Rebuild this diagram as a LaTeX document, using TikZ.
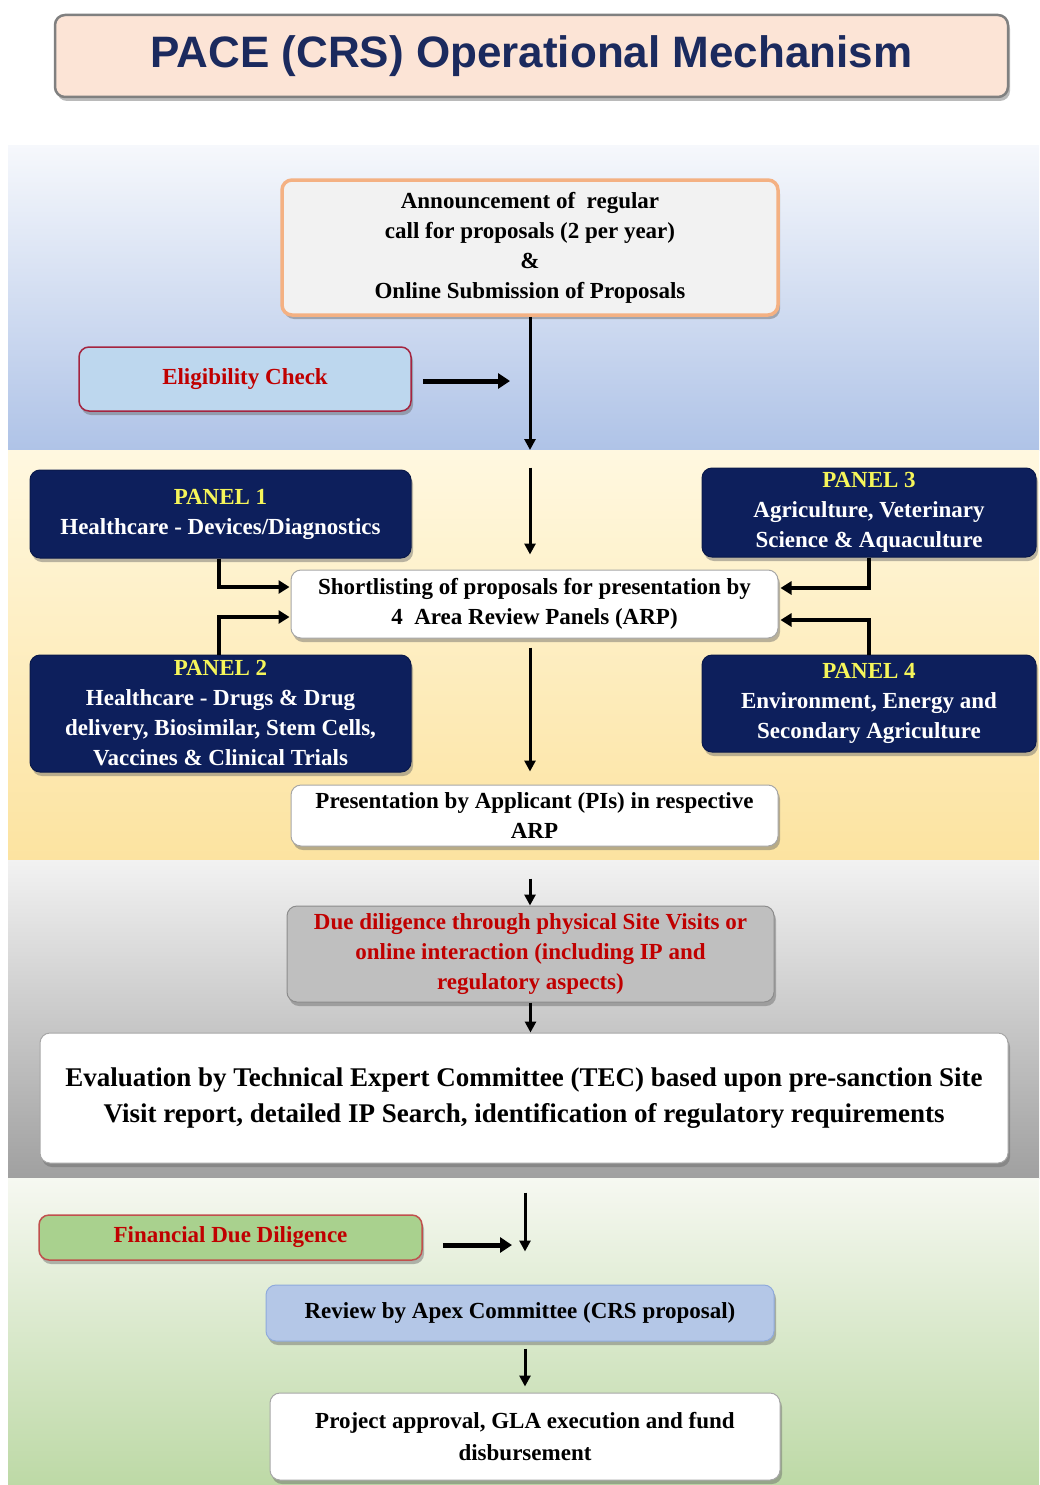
\documentclass[tikz,border=0pt]{standalone}
\usepackage{fontspec}
\setmainfont{Liberation Serif}
\newfontfamily\titlefont{Liberation Sans}
\usetikzlibrary{arrows.meta,shadows}
\definecolor{navy}{HTML}{0D1F5C}
\definecolor{titlenavy}{HTML}{1B2A5E}
\definecolor{peach}{HTML}{FCE4D6}
\definecolor{orangeb}{HTML}{F4B183}
\definecolor{eligfill}{HTML}{BDD7EE}
\definecolor{darkred}{HTML}{A5243F}
\definecolor{txtred}{HTML}{C00000}
\definecolor{panelyellow}{HTML}{F5F55A}
\definecolor{duefill}{HTML}{BFBFBF}
\definecolor{finfill}{HTML}{A9D18E}
\definecolor{finborder}{HTML}{C0504D}
\definecolor{apexfill}{HTML}{B4C7E7}
\definecolor{apexborder}{HTML}{8FAADC}
\definecolor{blueTop}{HTML}{F6F8FC}
\definecolor{blueBot}{HTML}{AFC3E7}
\definecolor{yelTop}{HTML}{FFF8E0}
\definecolor{yelBot}{HTML}{FCE3A0}
\definecolor{grayTop}{HTML}{F2F2F2}
\definecolor{grayBot}{HTML}{A0A0A0}
\definecolor{greenTop}{HTML}{F6F8F1}
\definecolor{greenBot}{HTML}{BDD9A6}
\tikzset{
  basebox/.style={rounded corners=10pt, inner sep=0pt, align=center,
    font=\bfseries\fontsize{23}{30}\selectfont,
    drop shadow={shadow xshift=2pt, shadow yshift=-4pt, opacity=0.45, fill=black!60}},
  whitebox/.style={basebox, fill=white, draw=black!35, line width=1pt},
  panelbox/.style={basebox, fill=navy, draw=navy!80!black, line width=1pt, text=white},
  arr/.style={line width=3pt, -{Triangle[length=11pt,width=11pt]}},
  conn/.style={line width=4pt, -{Triangle[length=11pt,width=13pt]}},
  sidearr/.style={line width=5pt, -{Triangle[length=12pt,width=15pt]}},
}
\begin{document}
\begin{tikzpicture}[x=1pt,y=-1pt]
\useasboundingbox (0,0) rectangle (1039,1485);
\fill[white] (0,0) rectangle (1039,1485);
% background bands
\fill[top color=blueTop, bottom color=blueBot] (8,145) rectangle (1039,450);
\fill[top color=yelTop, bottom color=yelBot] (8,450) rectangle (1039,860);
\fill[top color=grayTop, bottom color=grayBot] (8,860) rectangle (1039,1178);
\fill[top color=greenTop, bottom color=greenBot] (8,1178) rectangle (1039,1485);

% title
\node[basebox, fill=peach, draw=black!50, line width=2.5pt, minimum width=953pt, minimum height=82pt,
  font=\titlefont\bfseries\fontsize{44}{50}\selectfont, text=titlenavy] (title) at (531.5,56)
  {PACE (CRS) Operational Mechanism};

% nodes
\node[basebox, fill=black!5, draw=orangeb, line width=3.5pt, minimum width=496pt, minimum height=135pt] (ann) at (530,247.5)
  {Announcement of\ \ regular\\call for proposals (2 per year)\\\&\\Online Submission of Proposals};
\node[basebox, fill=eligfill, draw=darkred, line width=1.5pt, minimum width=332pt, minimum height=64pt, text=txtred] (elig) at (245,379)
  {Eligibility Check};

\node[panelbox, minimum width=381pt, minimum height=88pt] (p1) at (220.5,514)
  {\textcolor{panelyellow}{PANEL 1}\\Healthcare - Devices/Diagnostics};
\node[panelbox, minimum width=334pt, minimum height=89pt] (p3) at (869,512.5)
  {\textcolor{panelyellow}{PANEL 3}\\Agriculture, Veterinary\\Science \& Aquaculture};
\node[whitebox, minimum width=487pt, minimum height=68pt] (short) at (534.5,604)
  {Shortlisting of proposals for presentation by\\4\ \ Area Review Panels (ARP)};
\node[panelbox, minimum width=381pt, minimum height=117pt] (p2) at (220.5,713.5)
  {\textcolor{panelyellow}{PANEL 2}\\Healthcare - Drugs \& Drug\\delivery, Biosimilar, Stem Cells,\\Vaccines \& Clinical Trials};
\node[panelbox, minimum width=334pt, minimum height=97pt] (p4) at (869,703.5)
  {\textcolor{panelyellow}{PANEL 4}\\Environment, Energy and\\Secondary Agriculture};
\node[whitebox, minimum width=487pt, minimum height=61pt] (pres) at (534.5,815.5)
  {Presentation by Applicant (PIs) in respective\\ARP};

\node[basebox, fill=duefill, draw=black!45, line width=1pt, minimum width=487pt, minimum height=96pt, text=txtred] (due) at (530.5,954)
  {Due diligence through physical Site Visits or\\online interaction (including IP and\\regulatory aspects)};
\node[whitebox, minimum width=968pt, minimum height=130pt, font=\bfseries\fontsize{27}{36}\selectfont] (eval) at (524,1098)
  {Evaluation by Technical Expert Committee (TEC) based upon pre-sanction Site\\Visit report, detailed IP Search, identification of regulatory requirements};

\node[basebox, fill=finfill, draw=finborder, line width=1.5pt, minimum width=383pt, minimum height=45pt, text=txtred] (fin) at (230.5,1237.5)
  {Financial Due Diligence};
\node[basebox, fill=apexfill, draw=apexborder, line width=1pt, minimum width=508pt, minimum height=56pt] (apex) at (520,1313)
  {Review by Apex Committee (CRS proposal)};
\node[whitebox, minimum width=510pt, minimum height=87pt, font=\bfseries\fontsize{23}{32}\selectfont] (proj) at (525,1436.5)
  {Project approval, GLA execution and fund\\disbursement};

% connectors
\coordinate (band1end) at (530,450);
\coordinate (eligend) at (510,381);
\coordinate (finend) at (512,1245);
\draw[arr] (ann.south) -- (band1end);
\draw[sidearr] ([xshift=11pt,yshift=-2pt]elig.east) -- (eligend);
\draw[arr] ([xshift=-4.5pt,yshift=102pt]short.north) -- ([xshift=-4.5pt,yshift=15pt]short.north);

\draw[conn] ([xshift=-1.5pt]p1.south) |- ([yshift=17pt,xshift=-1pt]short.west);
\draw[conn] ([xshift=-1.5pt]p2.north) |- ([yshift=-13pt,xshift=-1pt]short.west);
\draw[conn] (p3.south) |- ([yshift=16pt,xshift=2pt]short.east);
\draw[conn] (p4.north) |- ([yshift=-16pt,xshift=2pt]short.east);

\draw[arr] ([xshift=-4.5pt,yshift=-9pt]short.south) -- ([xshift=-4.5pt,yshift=13pt]pres.north);
\draw[arr] ([xshift=-4.5pt,yshift=-32pt]pres.south) -- ([xshift=-0.5pt]due.north);
\draw[arr] (due.south) -- ([xshift=6.5pt]eval.north);
\draw[arr] ([xshift=1pt,yshift=-29pt]eval.south) -- ([xshift=5pt,yshift=33pt]apex.north);
\draw[sidearr] ([xshift=20pt,yshift=-7.5pt]fin.east) -- (finend);
\draw[arr] ([xshift=5pt,yshift=-7pt]apex.south) -- ([yshift=6pt]proj.north);
\end{tikzpicture}
\end{document}
